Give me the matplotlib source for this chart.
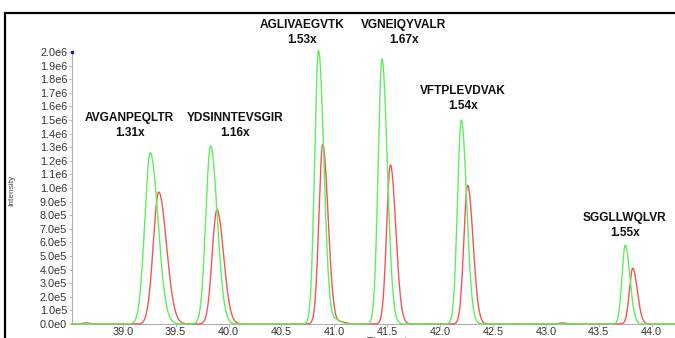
"""
Extracted-ion chromatogram overlay: light (green) vs heavy (red) peptide traces
with fold-change labels above each peak pair.
"""

import matplotlib

matplotlib.use("Agg")
import matplotlib.pyplot as plt
from matplotlib.patches import Rectangle
from matplotlib.ticker import FixedLocator, FuncFormatter
import numpy as np

# ---- data ----------------------------------------------------------------
PEPTIDES = ["AVGANPEQLTR", "YDSINNTEVSGIR", "AGLIVAEGVTK",
            "VGNEIQYVALR", "VFTPLEVDVAK", "SGGLLWQLVR"]
RATIOS = ["1.31x", "1.16x", "1.53x", "1.67x", "1.54x", "1.55x"]

GREEN_RT = [39.26, 39.83, 40.85, 41.45, 42.20, 43.75]          # min
GREEN_HEIGHT = [1.26e6, 1.31e6, 2.01e6, 1.95e6, 1.50e6, 0.58e6]
RED_RT = [39.34, 39.89, 40.89, 41.53, 42.26, 43.82]
RED_HEIGHT = [0.97e6, 0.84e6, 1.32e6, 1.17e6, 1.02e6, 0.41e6]
PEAK_SIGMA = [0.052, 0.045, 0.036, 0.036, 0.036, 0.031]         # min

# minor bumps on the baseline
GREEN_BUMP_RT = [41.02]
GREEN_BUMP_HEIGHT = [0.03e6]
RED_BUMP_RT = [41.07, 38.65, 43.15]
RED_BUMP_HEIGHT = [0.015e6, 0.008e6, 0.008e6]

Y_TICKS = np.arange(0, 21) * 1e5
X_TICKS = [39.0, 39.5, 40.0, 40.5, 41.0, 41.5, 42.0, 42.5, 43.0, 43.5, 44.0]

# ---- layout (label anchors, data coords) ---------------------------------
LABEL_X = [39.066, 40.059, 40.692, 41.656, 42.213, 43.745]
LABEL_Y = [1.515e6, 1.515e6, 2.20e6, 2.20e6, 1.713e6, 0.779e6]
RATIO_DY = 0.11e6

GREEN = "#5fee5f"
RED = "#f75454"
TAIL = 1.4


def peak_trace(t, rts, heights, sigmas):
    y = np.zeros_like(t)
    for rt, h, s in zip(rts, heights, sigmas):
        sig = np.where(t < rt, s, s * TAIL)
        y += h * np.exp(-0.5 * ((t - rt) / sig) ** 2)
    return y


def tick_fmt(v, _):
    if v == 0:
        return "0.0e0"
    exp = int(np.floor(np.log10(v) + 1e-9))
    return f"{v / 10 ** exp:.1f}e{exp}"


def main():
    fig = plt.figure(figsize=(6.75, 3.38), dpi=100)
    ax = fig.add_axes([72 / 675, 14 / 338, 603 / 675, 272 / 338])

    t = np.linspace(38.52, 44.22, 4000)
    green = peak_trace(t, GREEN_RT, GREEN_HEIGHT, PEAK_SIGMA)
    green += peak_trace(t, GREEN_BUMP_RT, GREEN_BUMP_HEIGHT, [0.03])
    red = peak_trace(t, RED_RT, RED_HEIGHT, PEAK_SIGMA)
    red += peak_trace(t, RED_BUMP_RT, RED_BUMP_HEIGHT, [0.03] * len(RED_BUMP_RT))

    ax.plot(t, red, color=RED, lw=1.0, clip_on=False, zorder=3)
    ax.plot(t, green, color=GREEN, lw=1.0, clip_on=False, zorder=4)

    ax.set_xlim(38.52, 44.22)
    ax.set_ylim(0, 2.0e6)
    ax.xaxis.set_major_locator(FixedLocator(X_TICKS))
    ax.xaxis.set_major_formatter(FuncFormatter(lambda v, _: f"{v:.1f}"))
    ax.yaxis.set_major_locator(FixedLocator(Y_TICKS))
    ax.yaxis.set_major_formatter(FuncFormatter(tick_fmt))

    for side in ("top", "right"):
        ax.spines[side].set_visible(False)
    for side in ("left", "bottom"):
        ax.spines[side].set_color("#b0b0b0")
        ax.spines[side].set_linewidth(0.8)
    ax.tick_params(axis="both", length=2, width=0.6, color="#b0b0b0",
                   labelsize=7.8, labelcolor="#333333")
    ax.tick_params(axis="x", pad=0.5)
    ax.tick_params(axis="y", pad=1.5)
    for lab in ax.get_xticklabels() + ax.get_yticklabels():
        lab.set_family("Liberation Sans")

    ax.plot([0], [1], marker="s", ms=1.8, color="#1a1aa0", transform=ax.transAxes,
            clip_on=False, zorder=5)

    for name, ratio, lx, ly in zip(PEPTIDES, RATIOS, LABEL_X, LABEL_Y):
        ax.text(lx, ly, name, ha="center", va="center", fontsize=8.6,
                fontweight="bold", family="Liberation Sans", color="#111111")
        ax.text(lx, ly - RATIO_DY, ratio, ha="center", va="center", fontsize=8.6,
                fontweight="bold", family="Liberation Sans", color="#111111")

    fig.text(12 / 675, 1 - 190 / 338, "Intensity", rotation=90, ha="center",
             va="center", fontsize=6, family="Liberation Sans", color="#444444")
    fig.text(390 / 675, 1 - 336.5 / 338, "Time, min", ha="center", va="top",
             fontsize=7.5, family="Liberation Sans", color="#444444")

    fig.add_artist(Rectangle((5 / 675, -0.2), 1.5, 0.2 + (1 - 13 / 338),
                             transform=fig.transFigure, fill=False,
                             edgecolor="black", lw=1.6, clip_on=False))

    fig.savefig("out.png", dpi=100, facecolor="white")
    plt.close(fig)


if __name__ == "__main__":
    main()
